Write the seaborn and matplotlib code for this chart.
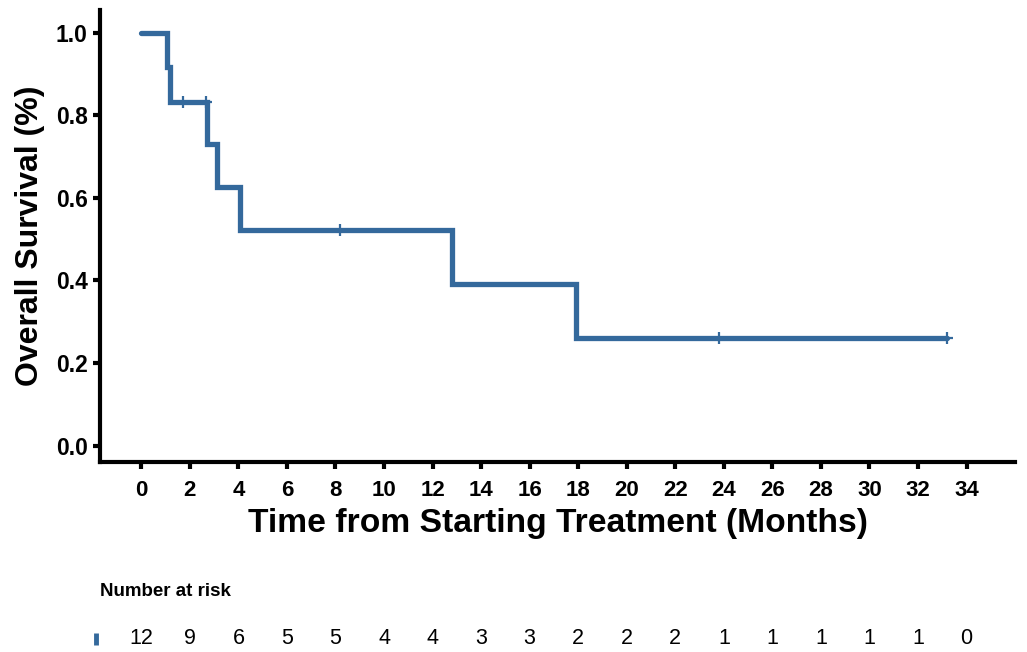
import numpy as np
import pandas as pd
import seaborn as sns
import matplotlib.pyplot as plt

# survival steps
step_months = [0, 1.07, 1.2, 2.7, 3.1, 4.07, 12.8, 17.9, 33.2]
step_surv = [1.0, 0.917, 0.833, 0.729, 0.625, 0.521, 0.391, 0.26, 0.26]

# censored patients
censor_months = [1.7, 2.65, 8.2, 23.8, 33.2]
censor_surv = [0.833, 0.833, 0.521, 0.26, 0.26]

# number at risk table
risk_times = list(range(0, 35, 2))
risk_counts = [12, 9, 6, 5, 5, 4, 4, 3, 3, 2, 2, 2, 1, 1, 1, 1, 1, 0]

line_color = '#34699c'

sns.set_theme(style='white')
plt.rcParams['font.family'] = ['Liberation Sans', 'DejaVu Sans']
plt.rcParams['text.color'] = 'black'
plt.rcParams['axes.labelcolor'] = 'black'
plt.rcParams['xtick.color'] = 'black'
plt.rcParams['ytick.color'] = 'black'

fig = plt.figure(figsize=(10.27, 6.52), dpi=100)
ax = fig.add_axes([0.0974, 0.291, 0.891, 0.694])

df_steps = pd.DataFrame({'month': step_months, 'surv': step_surv})
df_cens = pd.DataFrame({'month': censor_months, 'surv': censor_surv})

sns.lineplot(data=df_steps, x='month', y='surv', drawstyle='steps-post',
             color=line_color, linewidth=3.8, ax=ax, estimator=None,
             solid_joinstyle='miter')
sns.scatterplot(data=df_cens, x='month', y='surv', marker='+', s=80,
                color=line_color, linewidth=1.6, ax=ax, zorder=3)

ax.set_xlim(-1.7, 36)
ax.set_ylim(-0.04, 1.055)
ax.set_xticks(risk_times)
ax.set_yticks([0, 0.2, 0.4, 0.6, 0.8, 1.0])
ax.set_yticklabels(['0.0', '0.2', '0.4', '0.6', '0.8', '1.0'])
for lab in ax.get_xticklabels() + ax.get_yticklabels():
    lab.set_fontweight('bold')
ax.tick_params(axis='x', labelsize=16, length=5, width=3, bottom=True, pad=8)
ax.tick_params(axis='y', labelsize=16.5, length=5, width=3, left=True, pad=4)
for s in ['top', 'right']:
    ax.spines[s].set_visible(False)
for s in ['left', 'bottom']:
    ax.spines[s].set_linewidth(3)
    ax.spines[s].set_color('black')
ax.set_xlabel('Time from Starting Treatment (Months)', fontsize=24.2,
              fontweight='bold', labelpad=5)
ax.set_ylabel('Overall Survival (%)', fontsize=23, fontweight='bold', labelpad=8)

# risk table
ax2 = fig.add_axes([0.0974, 0.0, 0.891, 0.04])
ax2.set_xlim(-1.7, 36)
ax2.set_ylim(0, 1)
ax2.axis('off')
for t, n in zip(risk_times, risk_counts):
    ax2.text(t, 0.5, str(n), ha='center', va='center', fontsize=15.5,
             family=['Liberation Sans Narrow', 'Liberation Sans', 'DejaVu Sans'])
ax2.plot([-1.85], [0.5], marker='|', markersize=8, markeredgewidth=3.5,
         color=line_color, clip_on=False)
fig.text(0.097, 0.093, 'Number at risk', fontsize=13.5, fontweight='bold',
         family=['Liberation Sans Narrow', 'Liberation Sans', 'DejaVu Sans'],
         va='center', ha='left')

fig.savefig('out.png', dpi=100)
